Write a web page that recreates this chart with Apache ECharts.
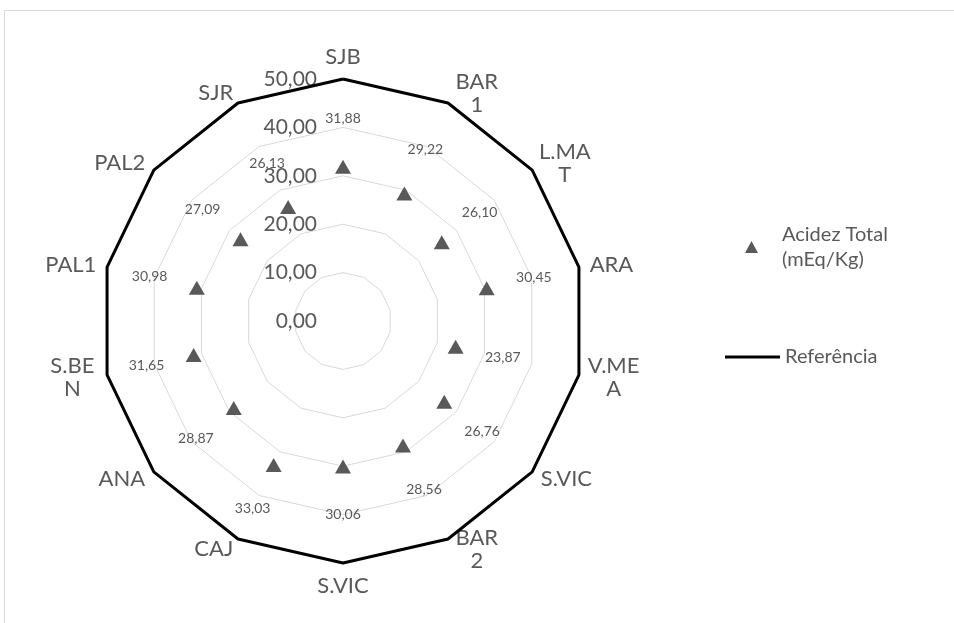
<!DOCTYPE html>
<html><head><meta charset="utf-8">
<script src="https://cdn.jsdelivr.net/npm/echarts@6/dist/echarts.min.js"></script>
<style>
html,body{margin:0;padding:0;background:#fff;overflow:hidden}
#frame{position:absolute;left:4px;top:10px;width:1000px;height:700px;border-left:1px solid #d9d9d9;border-top:1px solid #d9d9d9}
#chart{position:absolute;left:0;top:0;width:954px;height:623px}
</style></head>
<body><div id="frame"></div><div id="chart"></div>
<script>
// Categories clockwise from the top
const categories = ['SJB','BAR\n1','L.MA\nT','ARA','V.ME\nA','S.VIC','BAR\n2','S.VIC','CAJ','ANA','S.BE\nN','PAL1','PAL2','SJR'];
const acidez = [31.88,29.22,26.10,30.45,23.87,26.76,28.56,30.06,33.03,28.87,31.65,30.98,27.09,26.13];
const referencia = [50,50,50,50,50,50,50,50,50,50,50,50,50,50];
const axisMin = 0, axisMax = 50, axisSplits = 5;
const seriesNames = ['Acidez Total (mEq/Kg)', 'Referência'];

const LABEL_OFFSET = 10; // radial offset of the value labels (axis units)
const FONT = 'Lato';
const GREY = '#595959';

// ECharts radar runs counter-clockwise; reorder so that the picture runs clockwise
const ccw = a => [a[0]].concat(a.slice(1).reverse());
const fmt = v => v.toFixed(2).replace('.', ',');

const indicators = ccw(categories).map((n, i) => {
  const o = { name: n, min: axisMin, max: axisMax };
  if (i === 0) o.axisLabel = { show: true };
  return o;
});

const chart = echarts.init(document.getElementById('chart'));
chart.setOption({
  animation: false,
  radar: {
    center: [343, 321],
    radius: 242,
    startAngle: 90,
    shape: 'polygon',
    splitNumber: axisSplits,
    indicator: indicators,
    axisLine: { show: false },
    axisTick: { show: false },
    splitArea: { show: false },
    splitLine: { lineStyle: { color: '#d9d9d9', width: 1 } },
    axisLabel: { show: false, formatter: v => fmt(v), color: GREY, fontSize: 21, fontFamily: FONT, margin: 26 },
    axisName: {
      color: GREY, fontSize: 22, fontFamily: FONT, lineHeight: 23,
      formatter: n => n.indexOf('\n') >= 0 ? n.split('\n').map(s => '{c|' + s + '}').join('\n') : n,
      rich: { c: { width: 48, align: 'center', color: GREY, fontSize: 22, fontFamily: FONT, lineHeight: 23 } }
    },
    nameGap: 11
  },
  legend: [
    {
      orient: 'vertical', left: 740, top: 204.5, selectedMode: false,
      data: [{ name: seriesNames[0], icon: 'path://M6,0 L12,11 L0,11 Z' }],
      itemWidth: 13, itemHeight: 12,
      formatter: n => n.replace(' (', '\n('),
      textStyle: { color: GREY, fontSize: 20, fontFamily: FONT, lineHeight: 25, padding: [25, 0, 0, 19] }
    },
    {
      orient: 'vertical', left: 720, top: 339.5, selectedMode: false,
      data: [{ name: seriesNames[1], icon: 'path://M0,0 L55,0 L55,3 L0,3 Z' }],
      itemWidth: 55, itemHeight: 14,
      textStyle: { color: GREY, fontSize: 20, fontFamily: FONT, lineHeight: 25 }
    }
  ],
  series: [
    {
      name: seriesNames[1], type: 'radar', z: 2,
      symbol: 'none',
      lineStyle: { color: '#000', width: 3 },
      itemStyle: { color: '#000' },
      data: [{ value: ccw(referencia), name: seriesNames[1] }]
    },
    {
      name: seriesNames[0], type: 'radar', z: 3,
      symbol: 'triangle', symbolSize: [16, 14],
      itemStyle: { color: GREY },
      lineStyle: { opacity: 0, width: 0 },
      data: [{ value: ccw(acidez), name: seriesNames[0] }]
    },
    {
      name: '_labels', type: 'radar', z: 4, silent: true,
      symbol: 'circle', symbolSize: 1,
      itemStyle: { color: 'rgba(0,0,0,0)' },
      lineStyle: { opacity: 0, width: 0 },
      label: { show: true, position: 'inside', opacity: 1, color: GREY, fontSize: 14, fontFamily: FONT,
               formatter: p => fmt(p.value - LABEL_OFFSET) },
      data: [{ value: ccw(acidez).map(v => v + LABEL_OFFSET), name: '_labels' }]
    }
  ]
});
</script>
</body></html>
